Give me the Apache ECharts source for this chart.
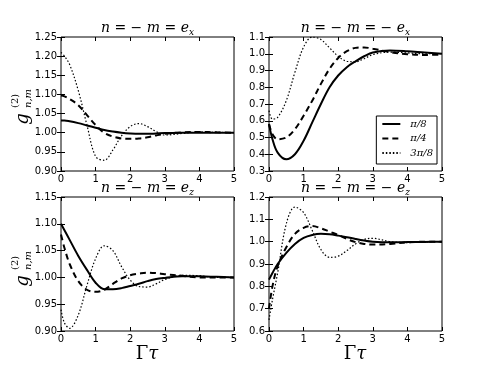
<!DOCTYPE html>
<html>
<head>
<meta charset="utf-8">
<script src="https://cdn.jsdelivr.net/npm/echarts@6/dist/echarts.min.js"></script>
<style>
  html, body { margin: 0; padding: 0; background: #fff; }
  #chart { width: 491px; height: 368px; }
</style>
</head>
<body>
<div id="chart"></div>
<script>
// time axis samples (Gamma tau)
const xs = [0, 0.1, 0.25, 0.5, 0.75, 1, 1.25, 1.5, 1.75, 2, 2.25, 2.5, 2.75, 3, 3.5, 4, 4.5, 5];
const seriesNames = ['π/8', 'π/4', '3π/8'];

// panel 1: n = -m = e_x
const ex_pi8  = [1.032, 1.032, 1.030, 1.025, 1.019, 1.013, 1.007, 1.003, 1.000, 0.998, 0.997, 0.997, 0.998, 0.999, 1.000, 1.000, 1.000, 1.000];
const ex_pi4  = [1.097, 1.095, 1.088, 1.072, 1.046, 1.020, 1.000, 0.990, 0.985, 0.984, 0.985, 0.988, 0.993, 0.997, 1.001, 1.002, 1.001, 1.000];
const ex_3pi8 = [1.210, 1.200, 1.178, 1.110, 1.020, 0.938, 0.928, 0.955, 0.992, 1.016, 1.024, 1.016, 1.003, 0.994, 0.998, 1.002, 1.001, 1.000];

// panel 2: n = -m = -e_x
const mex_pi8  = [0.58, 0.49, 0.41, 0.37, 0.40, 0.48, 0.59, 0.70, 0.80, 0.87, 0.92, 0.955, 0.985, 1.008, 1.02, 1.015, 1.007, 1.00];
const mex_pi4  = [0.58, 0.52, 0.49, 0.50, 0.55, 0.63, 0.72, 0.82, 0.91, 0.975, 1.015, 1.035, 1.038, 1.03, 1.01, 0.997, 0.993, 0.995];
const mex_3pi8 = [0.66, 0.61, 0.62, 0.72, 0.89, 1.04, 1.10, 1.085, 1.035, 0.985, 0.955, 0.952, 0.97, 0.995, 1.01, 1.005, 1.00, 1.00];

// panel 3: n = -m = e_z
const ez_pi8  = [1.100, 1.088, 1.070, 1.040, 1.014, 0.990, 0.978, 0.978, 0.980, 0.984, 0.988, 0.993, 0.997, 0.999, 1.002, 1.002, 1.001, 1.000];
const ez_pi4  = [1.080, 1.055, 1.025, 0.993, 0.977, 0.973, 0.977, 0.988, 0.998, 1.004, 1.007, 1.009, 1.008, 1.006, 1.003, 1.000, 1.000, 1.000];
const ez_3pi8 = [0.940, 0.915, 0.905, 0.930, 0.985, 1.035, 1.059, 1.050, 1.020, 0.995, 0.983, 0.982, 0.988, 0.996, 1.004, 1.003, 1.000, 1.000];

// panel 4: n = -m = -e_z
const mez_pi8  = [0.83, 0.86, 0.90, 0.95, 0.99, 1.017, 1.030, 1.035, 1.033, 1.027, 1.020, 1.012, 1.005, 1.000, 0.997, 0.998, 0.999, 1.000];
const mez_pi4  = [0.70, 0.80, 0.89, 0.975, 1.035, 1.062, 1.070, 1.060, 1.045, 1.030, 1.012, 0.998, 0.990, 0.987, 0.990, 0.997, 1.000, 1.000];
const mez_3pi8 = [0.65, 0.74, 0.86, 1.08, 1.155, 1.13, 1.05, 0.965, 0.93, 0.935, 0.96, 0.99, 1.01, 1.015, 1.00, 0.996, 0.999, 1.000];

const panels = [
  { title: '{i|n} = − {i|m} = {i|e}{s|x}',   ys: [ex_pi8, ex_pi4, ex_3pi8],     min: 0.90, max: 1.25, step: 0.05, dec: 2 },
  { title: '{i|n} = − {i|m} = − {i|e}{s|x}', ys: [mex_pi8, mex_pi4, mex_3pi8],  min: 0.3,  max: 1.1,  step: 0.1,  dec: 1 },
  { title: '{i|n} = − {i|m} = {i|e}{s|z}',   ys: [ez_pi8, ez_pi4, ez_3pi8],     min: 0.90, max: 1.15, step: 0.05, dec: 2 },
  { title: '{i|n} = − {i|m} = − {i|e}{s|z}', ys: [mez_pi8, mez_pi4, mez_3pi8],  min: 0.6,  max: 1.2,  step: 0.1,  dec: 1 }
];

const boxes = [
  { left: 61,  top: 37,  width: 173, height: 134 },
  { left: 269, top: 37,  width: 173, height: 134 },
  { left: 61,  top: 197, width: 173, height: 134 },
  { left: 269, top: 197, width: 173, height: 134 }
];

const lineStyles = [
  { color: '#000', width: 2, type: 'solid' },
  { color: '#000', width: 2, type: [6, 4] },
  { color: '#000', width: 1.2, type: [1.5, 2] }
];

const tickFont = { color: '#000', fontSize: 10, fontFamily: 'DejaVu Sans' };

const grid = [], xAxis = [], yAxis = [], series = [], title = [];
panels.forEach((p, i) => {
  const b = boxes[i];
  grid.push({ left: b.left, top: b.top, width: b.width, height: b.height, show: true,
    borderColor: '#000', borderWidth: 1, backgroundColor: 'transparent' });
  // bottom / left axes with labels
  xAxis.push({ type: 'value', gridIndex: i, min: 0, max: 5, interval: 1,
    axisLine: { show: false }, splitLine: { show: false },
    axisTick: { inside: true, length: 4, lineStyle: { color: '#000' } },
    axisLabel: Object.assign({ margin: 3 }, tickFont) });
  yAxis.push({ type: 'value', gridIndex: i, min: p.min, max: p.max, interval: p.step,
    axisLine: { show: false }, splitLine: { show: false },
    axisTick: { inside: true, length: 4, lineStyle: { color: '#000' } },
    axisLabel: Object.assign({ margin: 4, formatter: v => v.toFixed(p.dec) }, tickFont) });
  title.push({ text: p.title, left: b.left + b.width / 2, top: b.top - 17, textAlign: 'center',
    padding: 0,
    textStyle: { fontFamily: 'DejaVu Serif', fontSize: 14, fontWeight: 'normal', color: '#000',
      rich: {
        i: { fontFamily: 'DejaVu Serif', fontStyle: 'italic', fontSize: 14, color: '#000' },
        s: { fontFamily: 'DejaVu Serif', fontStyle: 'italic', fontSize: 9, color: '#000', padding: [8, 0, 0, 0] }
      } } });
  p.ys.forEach((arr, k) => {
    series.push({ type: 'line', name: seriesNames[k], xAxisIndex: i, yAxisIndex: i,
      data: xs.map((x, j) => [x, arr[j]]), symbol: 'none', smooth: 0.35,
      itemStyle: { color: 'rgba(0,0,0,0)' },
      lineStyle: lineStyles[k], z: 3 - k });
  });
});
// top / right tick marks (matplotlib style frame ticks)
panels.forEach((p, i) => {
  xAxis.push({ type: 'value', gridIndex: i, position: 'top', min: 0, max: 5, interval: 1,
    axisLine: { show: false }, splitLine: { show: false }, axisLabel: { show: false },
    axisTick: { inside: true, length: 4, lineStyle: { color: '#000' } } });
  yAxis.push({ type: 'value', gridIndex: i, position: 'right', min: p.min, max: p.max, interval: p.step,
    axisLine: { show: false }, splitLine: { show: false }, axisLabel: { show: false },
    axisTick: { inside: true, length: 4, lineStyle: { color: '#000' } } });
});

function yLabel(cx, cy) {
  return { type: 'group', x: cx, y: cy, rotation: Math.PI / 2, children: [
    { type: 'text', style: { text: 'g', x: -15, y: 0, font: 'italic 18px "DejaVu Serif"', fill: '#000', textAlign: 'center', textVerticalAlign: 'middle' } },
    { type: 'text', style: { text: '(2)', x: -4, y: -8, font: '10px "DejaVu Serif"', fill: '#000', textAlign: 'left', textVerticalAlign: 'middle' } },
    { type: 'text', style: { text: 'n,m', x: -4, y: 5, font: 'italic 10px "DejaVu Serif"', fill: '#000', textAlign: 'left', textVerticalAlign: 'middle' } }
  ] };
}
function xLabel(cx, cy) {
  return { type: 'text', x: cx, y: cy, style: { text: '{a|Γ}{b|τ}', fill: '#000', textAlign: 'center', textVerticalAlign: 'middle',
    rich: {
      a: { fontFamily: 'DejaVu Serif', fontSize: 18, fill: '#000' },
      b: { fontFamily: 'DejaVu Serif', fontStyle: 'italic', fontSize: 18, fill: '#000' }
    } } };
}

const chart = echarts.init(document.getElementById('chart'), null, { renderer: 'canvas' });
chart.setOption({
  animation: false,
  backgroundColor: '#fff',
  title: title,
  grid: grid,
  xAxis: xAxis,
  yAxis: yAxis,
  legend: {
    data: seriesNames, orient: 'vertical', right: 54, top: 116,
    backgroundColor: '#fff', borderColor: '#000', borderWidth: 1, borderRadius: 0,
    padding: [3, 4, 6, 5], itemGap: 4.5, itemWidth: 18, itemHeight: 10,
    itemStyle: { opacity: 0 },
    textStyle: { fontFamily: 'DejaVu Serif', fontStyle: 'italic', fontSize: 10, color: '#000', padding: [0, 0, 0, 5] },
    selectedMode: false
  },
  graphic: [yLabel(23, 104), yLabel(23, 266), xLabel(147, 354), xLabel(355, 354)],
  series: series
});
</script>
</body>
</html>
